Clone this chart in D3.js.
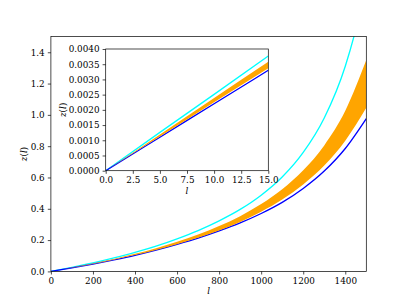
<!DOCTYPE html>
<html>
<head>
<meta charset="utf-8">
<script src="https://cdn.jsdelivr.net/npm/d3@7"></script>
<style>
  html, body { margin: 0; padding: 0; background: #fff; }
  svg text { font-family: "DejaVu Serif", serif; fill: #000; }
</style>
</head>
<body>
<div id="chart"></div>
<script>
// ---- data ----
const L_MAIN    = [0, 100, 200, 300, 400, 500, 600, 700, 800, 900, 1000, 1100, 1200, 1300, 1400, 1500];
const Z_BLUE    = [0, 0.0225, 0.047, 0.074, 0.103, 0.136, 0.173, 0.213, 0.259, 0.310, 0.370, 0.441, 0.530, 0.641, 0.785, 0.976];
const Z_ORG_HI  = [0, 0.0245, 0.051, 0.080, 0.112, 0.148, 0.189, 0.236, 0.290, 0.353, 0.430, 0.525, 0.646, 0.805, 1.026, 1.350];
const Z_ORG_LO  = [0, 0.023, 0.0475, 0.0745, 0.104, 0.137, 0.174, 0.215, 0.262, 0.316, 0.381, 0.459, 0.555, 0.676, 0.835, 1.045];
const L_CYAN    = [0, 100, 200, 300, 400, 500, 600, 700, 800, 900, 1000, 1100, 1200, 1300, 1400, 1450, 1480];
const Z_CYAN    = [0, 0.026, 0.054, 0.086, 0.121, 0.161, 0.208, 0.261, 0.323, 0.396, 0.487, 0.603, 0.760, 0.980, 1.311, 1.547, 1.725];

const L_INSET     = [0, 5, 10, 15];
const ZI_CYAN     = [0, 0.00126, 0.00251, 0.00377];
const ZI_ORG_HI   = [0, 0.00119, 0.00239, 0.00358];
const ZI_ORG_LO   = [0, 0.00112, 0.00225, 0.00337];
const ZI_BLUE     = [0, 0.00110, 0.00220, 0.00330];

const MAIN_XTICKS  = [0, 200, 400, 600, 800, 1000, 1200, 1400];
const MAIN_YTICKS  = [0, 0.2, 0.4, 0.6, 0.8, 1.0, 1.2, 1.4];
const INSET_XTICKS = [0, 2.5, 5, 7.5, 10, 12.5, 15];
const INSET_YTICKS = [0, 0.0005, 0.001, 0.0015, 0.002, 0.0025, 0.003, 0.0035, 0.004];

const W = 407, H = 305;
const FONT = 8.8;
const TICK = 3.1;

const svg = d3.select('#chart').append('svg')
  .attr('width', W).attr('height', H)
  .attr('viewBox', `0 0 ${W} ${H}`);
svg.append('rect').attr('width', W).attr('height', H).attr('fill', '#fff');

const defs = svg.append('defs');

// draws one set of axes with the four series
function panel(box, xDom, yDom, xTicks, yTicks, xFmt, yFmt, data, id) {
  const x = d3.scaleLinear().domain(xDom).range([box.x0, box.x1]);
  const y = d3.scaleLinear().domain(yDom).range([box.y1, box.y0]);
  const g = svg.append('g');

  g.append('rect')
    .attr('x', box.x0).attr('y', box.y0)
    .attr('width', box.x1 - box.x0).attr('height', box.y1 - box.y0)
    .attr('fill', '#fff');

  defs.append('clipPath').attr('id', id)
    .append('rect')
    .attr('x', box.x0).attr('y', box.y0)
    .attr('width', box.x1 - box.x0).attr('height', box.y1 - box.y0);

  const plot = g.append('g').attr('clip-path', `url(#${id})`);
  const line = (ls, zs) => d3.line()
    .x((d, i) => x(ls[i])).y(d => y(d))
    .curve(d3.curveMonotoneX)(zs);

  plot.append('path')
    .attr('d', line(data.lc, data.cyan))
    .attr('fill', 'none').attr('stroke', 'cyan').attr('stroke-width', 1.33);
  plot.append('path')
    .attr('d', line(data.l, data.blue))
    .attr('fill', 'none').attr('stroke', 'blue').attr('stroke-width', 1.33);

  const area = d3.area()
    .x((d, i) => x(data.l[i]))
    .y0((d, i) => y(data.lo[i]))
    .y1(d => y(d))
    .curve(d3.curveMonotoneX);
  plot.append('path')
    .attr('d', area(data.hi))
    .attr('fill', 'orange').attr('stroke', 'none');

  // axes
  const xAxis = d3.axisBottom(x).tickValues(xTicks).tickFormat(xFmt)
    .tickSizeInner(TICK).tickSizeOuter(0).tickPadding(3.1);
  const yAxis = d3.axisLeft(y).tickValues(yTicks).tickFormat(yFmt)
    .tickSizeInner(TICK).tickSizeOuter(0).tickPadding(3.1);

  const gx = g.append('g').attr('transform', `translate(0,${box.y1})`).call(xAxis);
  const gy = g.append('g').attr('transform', `translate(${box.x0},0)`).call(yAxis);
  [gx, gy].forEach(a => {
    a.select('.domain').remove();
    a.selectAll('line').attr('stroke', '#000').attr('stroke-width', 0.7);
    a.selectAll('text')
      .attr('font-family', '"DejaVu Serif", serif')
      .attr('font-size', FONT).attr('fill', '#000');
  });

  // spines
  g.append('rect')
    .attr('x', box.x0).attr('y', box.y0)
    .attr('width', box.x1 - box.x0).attr('height', box.y1 - box.y0)
    .attr('fill', 'none').attr('stroke', '#000').attr('stroke-width', 0.7);

  return { g, x, y };
}

const mainBox  = { x0: 50.9, x1: 366.3, y0: 36.6, y1: 271.4 };
const insetBox = { x0: 105.7, x1: 268.3, y0: 49, y1: 170.7 };

const main = panel(mainBox, [0, 1500], [0, 1.5], MAIN_XTICKS, MAIN_YTICKS,
  d3.format('d'), d3.format('.1f'),
  { l: L_MAIN, lc: L_CYAN, cyan: Z_CYAN, blue: Z_BLUE, hi: Z_ORG_HI, lo: Z_ORG_LO }, 'clip-main');

const inset = panel(insetBox, [0, 15], [0, 0.004], INSET_XTICKS, INSET_YTICKS,
  d3.format('.1f'), d3.format('.4f'),
  { l: L_INSET, lc: L_INSET, cyan: ZI_CYAN, blue: ZI_BLUE, hi: ZI_ORG_HI, lo: ZI_ORG_LO }, 'clip-inset');

// axis labels (italic math style)
function zLabel(gx, gy) {
  const t = svg.append('text')
    .attr('transform', `translate(${gx},${gy}) rotate(-90)`)
    .attr('text-anchor', 'middle')
    .attr('font-size', FONT);
  t.append('tspan').attr('font-style', 'italic').text('z');
  t.append('tspan').text('(');
  t.append('tspan').attr('font-style', 'italic').text('l');
  t.append('tspan').text(')');
}
function lLabel(gx, gy) {
  svg.append('text')
    .attr('x', gx).attr('y', gy)
    .attr('text-anchor', 'middle')
    .attr('font-size', FONT).attr('font-style', 'italic')
    .text('l');
}

zLabel(27, (mainBox.y0 + mainBox.y1) / 2 + 0);
lLabel((mainBox.x0 + mainBox.x1) / 2, 294);
zLabel(66, (insetBox.y0 + insetBox.y1) / 2);
lLabel((insetBox.x0 + insetBox.x1) / 2, 194);
</script>
</body>
</html>
